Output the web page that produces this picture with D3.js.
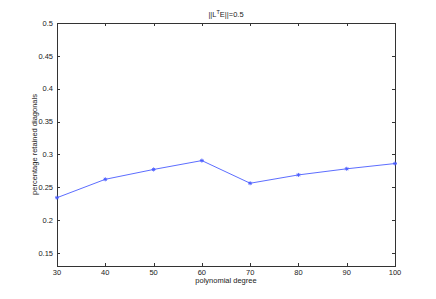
<!DOCTYPE html>
<html>
<head>
<meta charset="utf-8">
<script src="https://cdnjs.cloudflare.com/ajax/libs/d3/7.8.5/d3.min.js"></script>
<style>
  body { margin: 0; background: #fff; }
  text { font-family: "Liberation Sans", Arial, sans-serif; fill: #222; }
</style>
</head>
<body>
<svg id="chart" width="436" height="299"></svg>
<script>
// polynomial degree vs retained diagonal fraction
const degrees = [30, 40, 50, 60, 70, 80, 90, 100];
const retained = [0.234, 0.262, 0.277, 0.2905, 0.256, 0.2687, 0.278, 0.286];
const xTicks = [30, 40, 50, 60, 70, 80, 90, 100];
const yTicks = [0.15, 0.2, 0.25, 0.3, 0.35, 0.4, 0.45, 0.5];

const svg = d3.select("#chart");
const m = { left: 57, right: 395, top: 23, bottom: 266 };

const x = d3.scaleLinear().domain([30, 100]).range([m.left, m.right]);
const y = d3.scaleLinear().domain([0.13, 0.5]).range([m.bottom, m.top]);

const axisColor = "#333";
const tickLen = 3;

// box
svg.append("rect")
    .attr("x", m.left + 0.5).attr("y", m.top + 0.5)
    .attr("width", m.right - m.left).attr("height", m.bottom - m.top)
    .attr("fill", "none").attr("stroke", axisColor).attr("stroke-width", 1);

// x ticks (bottom and top, inward)
xTicks.forEach(function (t) {
    let px = Math.round(x(t)) + 0.5;
    svg.append("line").attr("x1", px).attr("x2", px).attr("y1", m.bottom).attr("y2", m.bottom - tickLen)
        .attr("stroke", axisColor);
    svg.append("line").attr("x1", px).attr("x2", px).attr("y1", m.top).attr("y2", m.top + tickLen)
        .attr("stroke", axisColor);
    svg.append("text").attr("x", x(t)).attr("y", m.bottom + 8.5)
        .attr("text-anchor", "middle").attr("font-size", 7.5).text(t);
});

// y ticks (left and right, inward)
yTicks.forEach(function (t) {
    let py = Math.round(y(t)) + 0.5;
    svg.append("line").attr("x1", m.left).attr("x2", m.left + tickLen).attr("y1", py).attr("y2", py)
        .attr("stroke", axisColor);
    svg.append("line").attr("x1", m.right).attr("x2", m.right - tickLen).attr("y1", py).attr("y2", py)
        .attr("stroke", axisColor);
    svg.append("text").attr("x", m.left - 4).attr("y", y(t) + 2.7)
        .attr("text-anchor", "end").attr("font-size", 7.5).text(d3.format("")(t));
});

// labels
svg.append("text").attr("x", (m.left + m.right) / 2).attr("y", m.bottom + 17)
    .attr("text-anchor", "middle").attr("font-size", 7.5).text("polynomial degree");

svg.append("text")
    .attr("transform", "translate(37," + ((m.top + m.bottom) / 2) + ") rotate(-90)")
    .attr("text-anchor", "middle").attr("font-size", 7.5).text("percentage retained diagonals");

const title = svg.append("text").attr("x", (m.left + m.right) / 2).attr("y", 17)
    .attr("text-anchor", "middle").attr("font-size", 7.5);
title.append("tspan").text("||L");
title.append("tspan").attr("dy", -3).attr("font-size", 5.5).text("T");
title.append("tspan").attr("dy", 3).text("E||=0.5");

// series
const pts = degrees.map(function (d, i) { return [d, retained[i]]; });
const line = d3.line().x(d => x(d[0])).y(d => y(d[1]));
const blue = "#4a5cff";

svg.append("path").datum(pts)
    .attr("d", line).attr("fill", "none").attr("stroke", blue).attr("stroke-width", 0.9);

// asterisk markers
const star = svg.append("g");
pts.forEach(function (p) {
    let cx = x(p[0]), cy = y(p[1]), r = 2;
    [0, 45, 90, 135].forEach(function (a) {
        let dx = r * Math.cos(a * Math.PI / 180), dy = r * Math.sin(a * Math.PI / 180);
        star.append("line").attr("x1", cx - dx).attr("y1", cy - dy).attr("x2", cx + dx).attr("y2", cy + dy)
            .attr("stroke", blue).attr("stroke-width", 0.9);
    });
});
</script>
</body>
</html>
